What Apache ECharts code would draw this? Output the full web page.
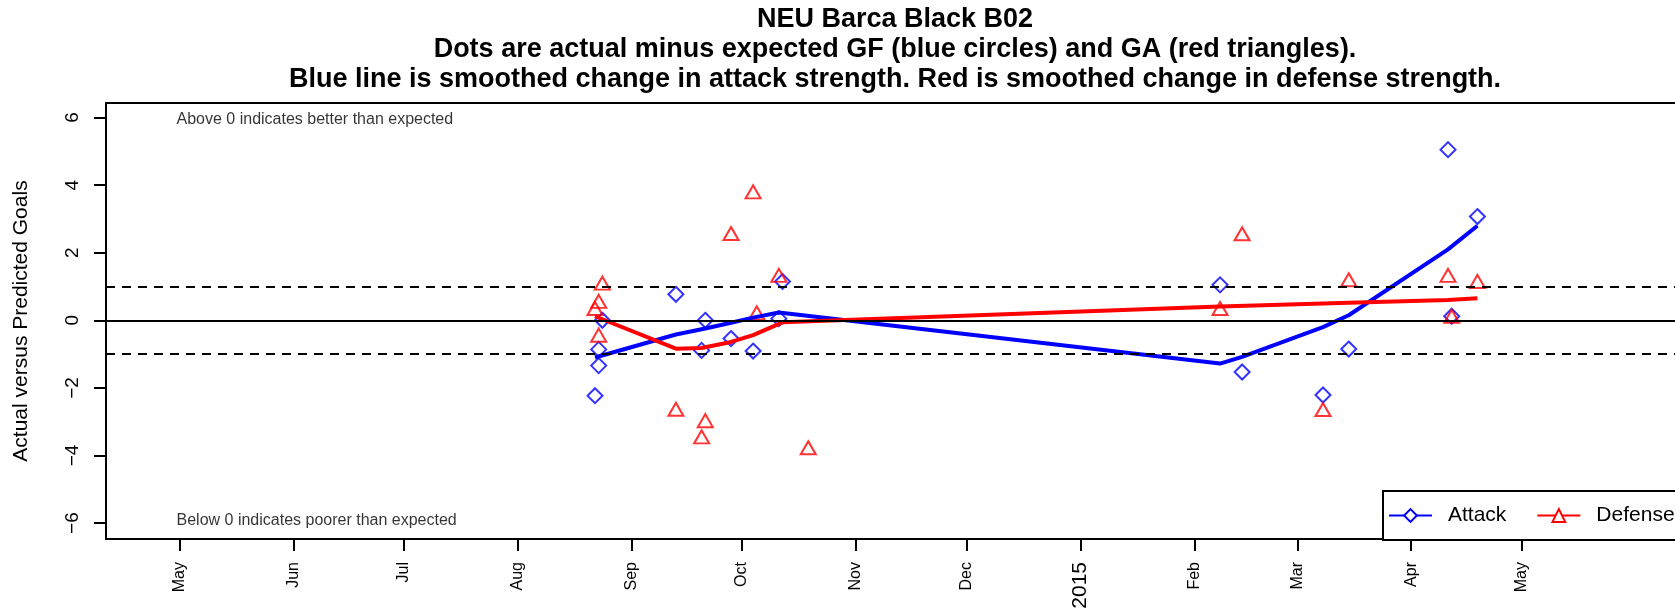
<!DOCTYPE html>
<html>
<head>
<meta charset="utf-8">
<script src="https://cdn.jsdelivr.net/npm/echarts@6/dist/echarts.min.js"></script>
<style>
html,body{margin:0;padding:0;background:#ffffff;}
#chart{width:1675px;height:616px;}
</style>
</head>
<body>
<div id="chart"></div>
<script>
// ---------- data ----------
const titleLines = [
  'NEU Barca Black B02',
  'Dots are actual minus expected GF (blue circles) and GA (red triangles).',
  'Blue line is smoothed change in attack strength. Red is smoothed change in defense strength.'
];
const yAxisTitle = 'Actual versus Predicted Goals';
const noteAbove = 'Above 0 indicates better than expected';
const noteBelow = 'Below 0 indicates poorer than expected';

const xMin = '2014-04-11';
const xMax = '2015-06-15';
const monthTicks = ['2014-05-01','2014-06-01','2014-07-01','2014-08-01','2014-09-01','2014-10-01',
  '2014-11-01','2014-12-01','2015-01-01','2015-02-01','2015-03-01','2015-04-01','2015-05-01'];
const monthLabels = ['May','Jun','Jul','Aug','Sep','Oct','Nov','Dec','2015','Feb','Mar','Apr','May'];
const yTicks = [-6, -4, -2, 0, 2, 4, 6];
const refLines = [0, 1, -1];

// actual minus expected goals for (attack, blue diamonds)
const attackDates = ['2014-08-22','2014-08-23','2014-08-23','2014-08-24','2014-09-13','2014-09-20',
  '2014-09-21','2014-09-28','2014-10-04','2014-10-11','2014-10-12','2015-02-08','2015-02-14',
  '2015-03-08','2015-03-15','2015-04-11','2015-04-12','2015-04-19'];
const attackValues = [-2.23, -1.34, -0.86, 0.0, 0.77, -0.89, 0.0, -0.54, -0.91, 0.05, 1.15, 1.05, -1.53,
  -2.21, -0.85, 5.05, 0.12, 3.07];

// actual minus expected goals against (defense, red triangles)
const defenseDates = ['2014-08-22','2014-08-23','2014-08-23','2014-08-24','2014-09-13','2014-09-20',
  '2014-09-21','2014-09-28','2014-10-04','2014-10-05','2014-10-11','2014-10-19','2015-02-08',
  '2015-02-14','2015-03-08','2015-03-15','2015-04-11','2015-04-12','2015-04-19'];
const defenseValues = [0.35, 0.56, -0.44, 1.10, -2.63, -3.45, -2.97, 2.57, 3.80, 0.22, 1.33, -3.77, 0.35,
  2.56, -2.64, 1.20, 1.33, 0.12, 1.15];

// smoothed changes in strength
const attackSmoothDates = ['2014-08-22','2014-09-13','2014-09-21','2014-09-28','2014-10-04','2014-10-11',
  '2015-02-08','2015-02-14','2015-03-08','2015-03-15','2015-04-11','2015-04-19'];
const attackSmooth = [-1.10, -0.42, -0.24, -0.07, 0.08, 0.23, -1.28, -1.08, -0.20, 0.15, 2.10, 2.80];
const defenseSmoothDates = ['2014-08-22','2014-09-13','2014-09-20','2014-09-28','2014-10-04','2014-10-12',
  '2015-02-08','2015-03-15','2015-04-11','2015-04-19'];
const defenseSmooth = [0.12, -0.84, -0.82, -0.64, -0.44, -0.06, 0.41, 0.52, 0.60, 0.65];

// ---------- helpers ----------
function toTime(s) { const p = s.split('-').map(Number); return Date.UTC(p[0], p[1] - 1, p[2]); }
function pairs(ds, vs) { return ds.map((d, i) => [toTime(d), vs[i]]); }
const tickTimes = monthTicks.map(toTime);
const FONT = '"Liberation Sans", Arial, Helvetica, sans-serif';
const BLUE = '#0000ff', RED = '#ff0000';

const chart = echarts.init(document.getElementById('chart'), null, {renderer: 'canvas'});
chart.setOption({
  animation: false,
  backgroundColor: '#ffffff',
  textStyle: {fontFamily: FONT, color: '#000'},
  title: {
    text: titleLines.join('\n'),
    left: 895,
    top: 5,
    padding: 0,
    textAlign: 'center',
    textStyle: {fontFamily: FONT, fontSize: 27, fontWeight: 'bold', lineHeight: 30, color: '#000'}
  },
  legend: {
    data: ['Attack', 'Defense'],
    left: 1383,
    bottom: 76,
    width: 500,
    orient: 'horizontal',
    itemWidth: 43,
    itemHeight: 16,
    itemGap: 30,
    padding: [14, 40, 14, 5],
    borderColor: '#000',
    borderWidth: 2,
    backgroundColor: '#fff',
    lineStyle: {width: 2},
    textStyle: {fontFamily: FONT, fontSize: 21, color: '#000', padding: [0, 0, 0, 11]}
  },
  grid: {
    left: 106, width: 1581, top: 103, bottom: 77,
    outerBoundsMode: 'none',
    containLabel: false,
    show: true, borderColor: '#000', borderWidth: 2, backgroundColor: 'transparent'
  },
  xAxis: {
    type: 'value',
    min: toTime(xMin),
    max: toTime(xMax),
    splitLine: {show: false},
    axisLine: {show: true, onZero: false, lineStyle: {color: '#000', width: 2}},
    axisTick: {show: true, length: 12, lineStyle: {color: '#000', width: 2}, customValues: tickTimes},
    axisLabel: {
      customValues: tickTimes,
      rotate: 90,
      margin: 23,
      fontFamily: FONT,
      fontSize: 16,
      color: '#000',
      formatter: function (v) {
        let idx = 0, best = Infinity;
        tickTimes.forEach((t, i) => { const d = Math.abs(t - v); if (d < best) { best = d; idx = i; } });
        const lab = monthLabels[idx];
        return /^\d{4}$/.test(lab) ? '{yr|' + lab + '}' : lab;
      },
      rich: {yr: {fontFamily: FONT, fontSize: 21, color: '#000'}}
    }
  },
  yAxis: {
    type: 'value',
    min: -6.47,
    max: 6.43,
    name: yAxisTitle,
    nameLocation: 'middle',
    nameRotate: 90,
    nameGap: 74,
    nameTextStyle: {fontFamily: FONT, fontSize: 21, color: '#000'},
    splitLine: {show: false},
    axisLine: {show: true, onZero: false, lineStyle: {color: '#000', width: 2}},
    axisTick: {show: true, length: 12, lineStyle: {color: '#000', width: 2}, customValues: yTicks},
    axisLabel: {
      customValues: yTicks,
      rotate: 90,
      margin: 24,
      fontFamily: FONT,
      fontSize: 19,
      color: '#000',
      formatter: v => (v < 0 ? '\u2212' + Math.abs(v) : String(v))
    }
  },
  series: [
    {
      name: 'GF',
      type: 'scatter',
      data: pairs(attackDates, attackValues),
      symbol: 'diamond',
      symbolSize: [15, 15],
      itemStyle: {color: 'rgba(0,0,0,0)', borderColor: BLUE, borderWidth: 2},
      z: 3,
      markLine: {
        silent: true,
        symbol: ['none', 'none'],
        animation: false,
        label: {show: false},
        lineStyle: {color: '#000', width: 2},
        data: refLines.map(v => ({yAxis: v, lineStyle: {color: '#000', width: 2, type: v === 0 ? 'solid' : [9, 7]}}))
      }
    },
    {
      name: 'GA',
      type: 'scatter',
      data: pairs(defenseDates, defenseValues),
      symbol: 'triangle',
      symbolSize: [15, 13],
      itemStyle: {color: 'rgba(0,0,0,0)', borderColor: RED, borderWidth: 2},
      z: 3
    },
    {
      name: 'Attack',
      type: 'line',
      data: pairs(attackSmoothDates, attackSmooth),
      symbol: 'emptyDiamond',
      showSymbol: false,
      color: BLUE,
      lineStyle: {color: BLUE, width: 4},
      itemStyle: {color: BLUE},
      z: 4
    },
    {
      name: 'Defense',
      type: 'line',
      data: pairs(defenseSmoothDates, defenseSmooth),
      symbol: 'emptyTriangle',
      showSymbol: false,
      color: RED,
      lineStyle: {color: RED, width: 4},
      itemStyle: {color: RED},
      z: 4
    },
    {
      name: 'notes',
      type: 'scatter',
      silent: true,
      symbolSize: 0,
      data: [
        {value: [toTime('2014-05-01'), 6], label: {formatter: noteAbove, offset: [0, 2]}},
        {value: [toTime('2014-05-01'), -6], label: {formatter: noteBelow, offset: [0, -3]}}
      ],
      label: {show: true, position: 'right', distance: -3, fontFamily: FONT, fontSize: 16, color: '#000'},
      z: 2
    }
  ]
});
</script>
</body>
</html>
